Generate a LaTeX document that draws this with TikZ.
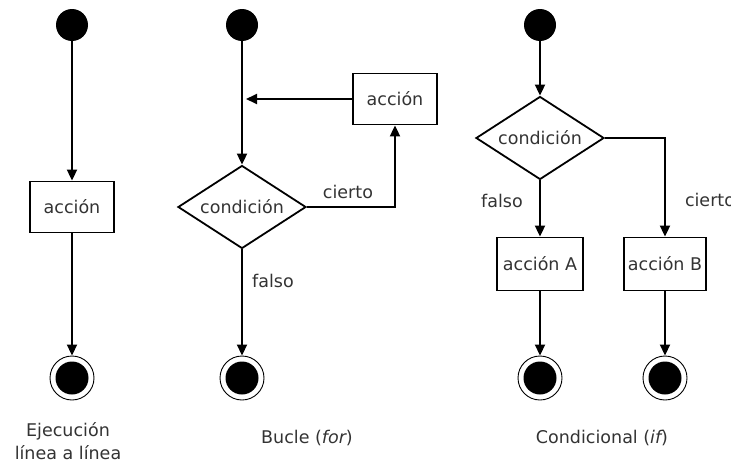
\documentclass[tikz,border=0pt]{standalone}
\usepackage{fontspec}
\setmainfont{DejaVu Sans}
\usetikzlibrary{arrows.meta,shapes.geometric}

\tikzset{
	startdot/.style={circle, fill=black, minimum size=32pt, inner sep=0pt},
	enddot/.style={circle, draw, line width=0.9pt, minimum size=44pt, inner sep=0pt,
		path picture={\fill[black] (path picture bounding box.center) circle (16.5pt);}},
	actbox/.style={rectangle, draw, line width=1.8pt, minimum width=84pt, minimum height=51pt, inner sep=2pt, text=black!80},
	condbox/.style={diamond, draw, line width=1.8pt, minimum width=128pt, minimum height=83pt, inner sep=0pt, aspect=1.56, text=black!80},
	flow/.style={line width=1.8pt, -{Triangle[length=11pt, width=10pt]}},
	lbl/.style={text=black!80},
}

\begin{document}
\begin{tikzpicture}[x=1pt, y=-1pt, font=\fontsize{17.5}{23}\selectfont]
		%%%%% START %%%%%
		\useasboundingbox (0, 0) rectangle (731, 463);
		
		% linea a linea
		\node[startdot] (ini1) at (72, 25) {};
		\node[actbox] (act1) at (72, 207) {acción};
		\node[enddot] (fin1) at (72, 378) {};
		\draw[flow] (ini1) -- (act1);
		\draw[flow] (act1) -- (fin1);
		\node[lbl, align=center] (tit1) at (68, 441) {Ejecución\\línea a línea};
		
		% bucle
		\node[startdot] (ini2) at (242, 25) {};
		\node[condbox] (cond2) at (242, 207) {condición};
		\node[actbox] (act2) at (395, 99) {acción};
		\node[enddot] (fin2) at (242, 378) {};
		\coordinate (join2) at (246, 99);
		\draw[flow] (ini2) -- (cond2.north);
		\draw[flow] (cond2.east) -| (act2.south);
		\draw[flow] (act2.west) -- (join2);
		\draw[flow] (cond2.south) -- (fin2);
		\node[lbl] (si2) at (348, 192) {cierto};
		\node[lbl] (no2) at (273, 281) {falso};
		\node[lbl] (tit2) at (307, 438) {Bucle ({\itshape for})};
		
		% condicional
		\node[startdot] (ini3) at (540, 25) {};
		\node[condbox] (cond3) at (540, 138) {condición};
		\node[actbox, minimum width=86pt, minimum height=53pt] (actA) at (540, 264) {acción A};
		\node[actbox, minimum width=82pt, minimum height=53pt] (actB) at (665, 264) {acción B};
		\node[enddot] (finA) at (540, 378) {};
		\node[enddot] (finB) at (665, 378) {};
		\draw[flow] (ini3) -- (cond3.north);
		\draw[flow] (cond3.south) -- (actA);
		\draw[flow] (cond3.east) -| (actB.north);
		\draw[flow] (actA) -- (finA);
		\draw[flow] (actB) -- (finB);
		\node[lbl] (no3) at (502, 201) {falso};
		\node[lbl] (si3) at (710, 200) {cierto};
		\node[lbl] (tit3) at (602, 438) {Condicional ({\itshape if})};
		%%%%% END %%%%%
\end{tikzpicture}
\end{document}
